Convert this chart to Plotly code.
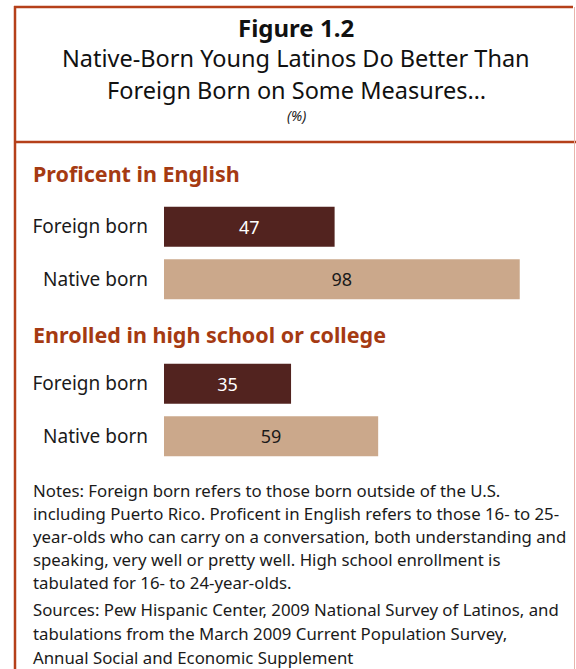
import plotly.graph_objects as go

# ---- data ----
groups = ["Foreign born", "Native born"]
english_values = [47, 98]
enrolled_values = [35, 59]
section_titles = ["Proficent in English", "Enrolled in high school or college"]
title_main = "Figure 1.2"
title_sub = ["Native-Born Young Latinos Do Better Than", "Foreign Born on Some Measures\u2026"]
unit_note = "(%)"
note_lines = [
    "Notes: Foreign born refers to those born outside of the U.S.",
    "including Puerto Rico. Proficent in English refers to those 16- to 25-",
    "year-olds who can carry on a conversation, both understanding and",
    "speaking, very well or pretty well. High school enrollment is",
    "tabulated for 16- to 24-year-olds.",
]
source_lines = [
    "Sources: Pew Hispanic Center, 2009 National Survey of Latinos, and",
    "tabulations from the March 2009 Current Population Survey,",
    "Annual Social and Economic Supplement",
]

# ---- style ----
W, H = 576, 669
FONT = "Noto Sans"
DARK = "#52231F"
LIGHT = "#CBA88B"
RUST = "#A53A12"
BORDER = "#B5401A"
TXT = "#1a1a1a"
bar_colors = [DARK, LIGHT]
val_colors = ["white", TXT]


def py(p):
    return 1 - p / H


def px(p):
    return p / W


fig = go.Figure()

xdom = [px(164), px(164 + 363)]
for i, vals in enumerate([english_values, enrolled_values]):
    ya = "y" if i == 0 else "y2"
    xa = "x" if i == 0 else "x2"
    fig.add_trace(go.Bar(
        x=vals, y=groups, orientation="h",
        marker=dict(color=bar_colors, line=dict(width=0)),
        text=[str(v) for v in vals], textposition="inside",
        insidetextanchor="middle",
        textfont=dict(family=FONT, size=18, color=val_colors),
        xaxis=xa, yaxis=ya, showlegend=False, hoverinfo="skip",
    ))

ax_common = dict(range=[0, 100], showgrid=False, zeroline=False,
                 showticklabels=False, ticks="", showline=False, fixedrange=True)
ycommon = dict(type="category", categoryorder="array", categoryarray=groups,
               range=[1.5, -0.5], showgrid=False, zeroline=False, ticks="",
               showline=False, ticklabelstandoff=15,
               tickfont=dict(family=FONT, size=19, color=TXT))

fig.update_layout(
    width=W, height=H,
    margin=dict(l=0, r=0, t=0, b=0),
    paper_bgcolor="white", plot_bgcolor="white",
    bargap=0.24,
    xaxis=dict(domain=xdom, anchor="y", **ax_common),
    xaxis2=dict(domain=xdom, anchor="y2", **ax_common),
    yaxis=dict(domain=[py(305.5), py(200.5)], anchor="x", **ycommon),
    yaxis2=dict(domain=[py(462.5), py(357.5)], anchor="x2", **ycommon),
)

ann = []
cx = px(296)
ann.append(dict(text="<b>%s</b>" % title_main, x=cx, y=py(27), font=dict(family=FONT, size=24, color="#111")))
ann.append(dict(text=title_sub[0], x=cx, y=py(58), font=dict(family=FONT, size=23.5, color="#111")))
ann.append(dict(text=title_sub[1], x=cx, y=py(90), font=dict(family=FONT, size=23.5, color="#111")))
ann.append(dict(text="<i>%s</i>" % unit_note, x=cx, y=py(116), font=dict(family=FONT, size=14, color="#222")))
for t, yy in zip(section_titles, [174, 334]):
    ann.append(dict(text="<b>%s</b>" % t, x=px(31), y=py(yy), xanchor="left",
                    font=dict(family=FONT, size=21.5, color=RUST)))
for k, line in enumerate(note_lines):
    ann.append(dict(text=line, x=px(31), y=py(490 + k * 23), xanchor="left",
                    font=dict(family=FONT, size=16.8, color=TXT)))
for k, line in enumerate(source_lines):
    ann.append(dict(text=line, x=px(31), y=py(609 + k * 24), xanchor="left",
                    font=dict(family=FONT, size=16.8, color=TXT)))
for a in ann:
    a.setdefault("xanchor", "center")
    a.update(xref="paper", yref="paper", yanchor="middle", showarrow=False)
fig.update_layout(annotations=ann)

shapes = [
    dict(type="line", x0=px(15), x1=px(15), y0=py(6), y1=py(669), line=dict(color=BORDER, width=2.5)),
    dict(type="line", x0=px(14), x1=px(573), y0=py(7), y1=py(7), line=dict(color=BORDER, width=2.5)),
    dict(type="line", x0=px(15), x1=px(576), y0=py(142), y1=py(142), line=dict(color=BORDER, width=2.5)),
    dict(type="line", x0=px(574.5), x1=px(574.5), y0=py(7), y1=py(669), line=dict(color="#E8B4AC", width=1)),
]
for s in shapes:
    s.update(xref="paper", yref="paper")
fig.update_layout(shapes=shapes)

fig.write_html("out.html", config={"displayModeBar": False},
               post_script="document.body.style.margin='0';document.body.style.overflow='hidden';")
